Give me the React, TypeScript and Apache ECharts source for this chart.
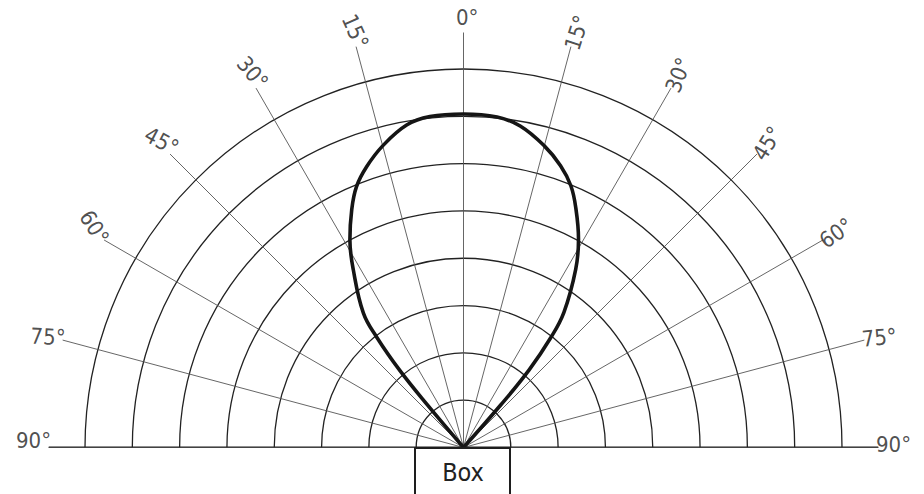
import React, { useEffect, useRef } from "react";
import * as echarts from "echarts";

// Spoke angles (degrees from vertical) and their labels
const spokeAngles = [-90, -75, -60, -45, -30, -15, 0, 15, 30, 45, 60, 75, 90];
const labelTexts = ["90°", "75°", "60°", "45°", "30°", "15°", "0°", "15°", "30°", "45°", "60°", "75°", "90°"];
// Where each label sits (angle) and how it is turned
const labelAngles = [-89.1, -75.1, -59.2, -44.6, -29.4, -14.6, 0.5, 15.3, 30, 45, 60.1, 75.2, 89.6];
const labelRotations = [0, -3, -58, -28, -50, -66, 0, 72, 68, 58, 35, 5, 0];

// Radial rings: 0..8 units
const ringMax = 8;

// The radiation lobe: radius (rings) and angle (deg), traced from centre-left to centre-right
const lobeRadius = [
  0, 1.2, 2.1, 2.96, 3.54, 4.42, 5.0, 5.55, 5.96, 6.28, 6.6, 6.92, 7.03, 7.05,
  7.02, 6.9, 6.6, 6.3, 5.98, 5.58, 5.03, 4.45, 3.56, 2.95, 2.15, 1.2, 0,
];
const lobeAngle = [
  -41, -40.3, -39.6, -38.2, -36.7, -31.8, -28.7, -25.2, -22.3, -19, -15, -10, -5.8, 0,
  5.8, 10, 15, 19, 22.3, 25.2, 28.9, 32.2, 36.6, 38.5, 40.2, 41.2, 42,
];

const boxLabel = "Box";

const FONT = "'Liberation Sans Narrow', 'DejaVu Sans Condensed', 'Roboto Condensed', sans-serif";

export default function App() {
  const ref = useRef<HTMLDivElement>(null);

  useEffect(() => {
    if (!ref.current) return;
    const chart = echarts.init(ref.current, undefined, { renderer: "svg" });
    const center = [463.5, 447.5];

    const angleBase = {
      type: "value" as const,
      min: -90,
      max: 90,
      interval: 15,
      startAngle: 180,
      endAngle: 0,
      clockwise: true,
      axisLine: { show: false },
      axisTick: { show: false },
      axisLabel: { show: false },
    };

    const option: any = {
      animation: false,
      backgroundColor: "#ffffff",
      polar: [
        { center, radius: 378.5 },
        { center, radius: 415 },
        { center, radius: 430 },
      ],
      angleAxis: [
        { ...angleBase, polarIndex: 0, splitLine: { show: false } },
        {
          ...angleBase,
          polarIndex: 1,
          splitLine: { show: true, lineStyle: { color: "#555", width: 0.9 } },
        },
        { ...angleBase, polarIndex: 2, show: false, splitLine: { show: false } },
      ],
      radiusAxis: [
        {
          polarIndex: 0,
          type: "value",
          min: 0,
          max: ringMax,
          interval: 1,
          axisLine: { show: false },
          axisTick: { show: false },
          axisLabel: { show: false },
          splitLine: { show: true, lineStyle: { color: "#222", width: 1.3 } },
        },
        { polarIndex: 1, type: "value", min: 0, max: 1, show: false, splitLine: { show: false } },
        { polarIndex: 2, type: "value", min: 0, max: 1, show: false, splitLine: { show: false } },
      ],
      series: [
        {
          type: "line",
          coordinateSystem: "polar",
          polarIndex: 1,
          data: [
            [1, spokeAngles[0]],
            [0, 0],
            [1, spokeAngles[spokeAngles.length - 1]],
          ],
          symbol: "none",
          lineStyle: { color: "#1e1e1e", width: 2 },
          clip: false,
          z: 3,
        },
        {
          type: "line",
          coordinateSystem: "polar",
          polarIndex: 0,
          data: lobeRadius.map((r, i) => [r, lobeAngle[i]]),
          symbol: "none",
          smooth: 0.4,
          lineStyle: { color: "#151515", width: 3.6 },
          clip: false,
          z: 5,
        },
        {
          type: "scatter",
          coordinateSystem: "polar",
          polarIndex: 2,
          symbolSize: 0,
          clip: false,
          data: labelTexts.map((t, i) => ({
            value: [1, labelAngles[i]],
            name: t,
            label: { rotate: labelRotations[i] },
          })),
          label: {
            show: true,
            position: "inside",
            formatter: (p: any) => p.name,
            fontFamily: FONT,
            fontSize: 22,
            color: "#222",
          },
          z: 6,
        },
      ],
      graphic: [
        {
          type: "rect",
          shape: { x: 415, y: 448, width: 95, height: 60 },
          style: { fill: "#ffffff", stroke: "#1e1e1e", lineWidth: 2 },
          z: 10,
        },
        {
          type: "text",
          x: 463,
          y: 472,
          style: {
            text: boxLabel,
            fontFamily: FONT,
            fontSize: 25,
            fill: "#222",
            textAlign: "center",
            textVerticalAlign: "middle",
          },
          z: 11,
        },
      ],
    };

    chart.setOption(option);
    return () => chart.dispose();
  }, []);

  return (
    <div
      ref={ref}
      style={{ position: "fixed", left: 0, top: 0, width: 924, height: 494, background: "#fff" }}
    />
  );
}
